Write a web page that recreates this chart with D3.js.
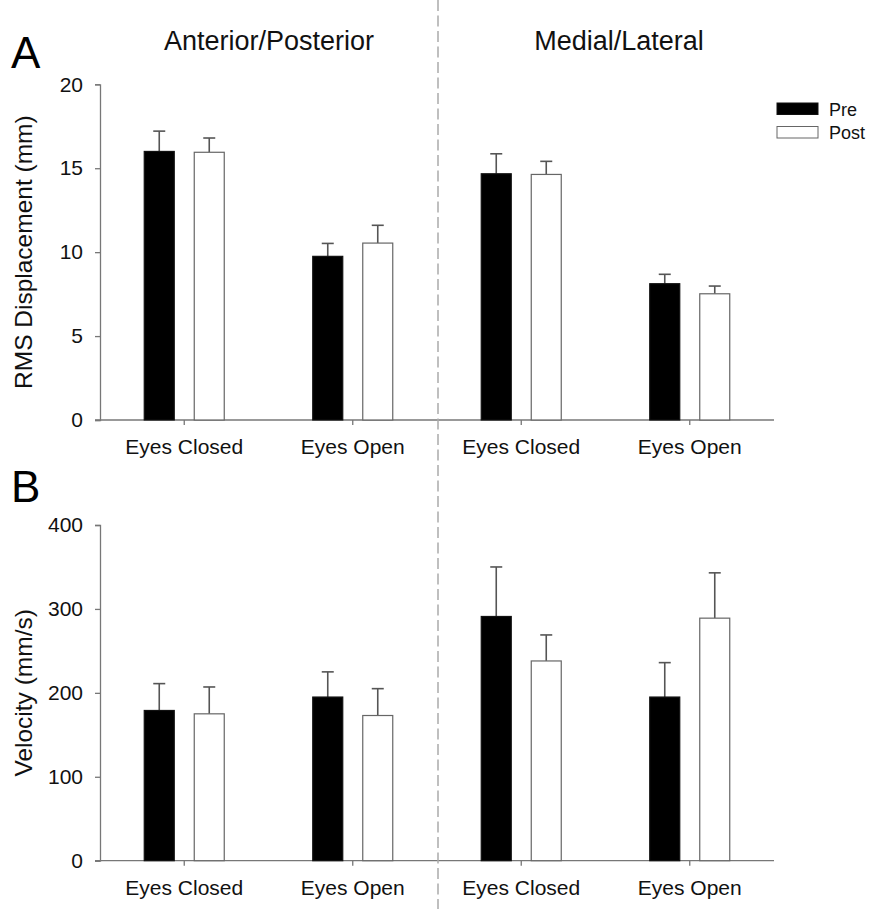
<!DOCTYPE html>
<html>
<head>
<meta charset="utf-8">
<script src="https://cdn.jsdelivr.net/npm/d3@7"></script>
<style>
  html, body { margin: 0; padding: 0; background: #fff; }
  svg { display: block; font-family: "Liberation Sans", Arial, Helvetica, sans-serif; }
</style>
</head>
<body>
<svg id="chart" width="870" height="909"></svg>
<script>
// Sway measures: two directions x two visual conditions
const directions = ["Anterior/Posterior", "Medial/Lateral"];
const conditions = ["Eyes Closed", "Eyes Open"];
const series = ["Pre", "Post"];

// Slots in order: AP-closed, AP-open, ML-closed, ML-open
const rmsPre      = [16.0, 9.75, 14.67, 8.12];
const rmsPreErr   = [1.21, 0.77, 1.19, 0.56];
const rmsPost     = [15.95, 10.54, 14.63, 7.52];
const rmsPostErr  = [0.85, 1.06, 0.78, 0.46];

const velPre      = [179, 195, 291, 195];
const velPreErr   = [32, 30, 59, 41];
const velPost     = [175, 173, 238, 289];
const velPostErr  = [32, 32, 31, 54];

const rmsTicks = [0, 5, 10, 15, 20];
const velTicks = [0, 100, 200, 300, 400];

const svg = d3.select("#chart");

const slots = directions.flatMap(d => conditions.map(c => d + "|" + c));
const x = d3.scaleBand().domain(slots).range([100, 774]);
const inner = d3.scaleBand().domain(series).range([-40, 40]).paddingInner(0.4);

const axisColor = "#777";

function panel(cfg) {
  const y = d3.scaleLinear().domain(cfg.domain).range([cfg.bottom, cfg.top]);
  const g = svg.append("g");

  // y axis
  const yAxis = g.append("g")
    .attr("transform", "translate(100,0)")
    .call(d3.axisLeft(y).tickValues(cfg.ticks).tickSize(5).tickPadding(12));
  yAxis.select(".domain").attr("stroke", axisColor).attr("stroke-width", 1.3);
  yAxis.selectAll(".tick line").attr("stroke", axisColor).attr("stroke-width", 1.3);
  yAxis.selectAll(".tick text").attr("font-size", 21).attr("fill", "#111")
    .attr("font-family", "Liberation Sans, Arial, sans-serif");

  // x axis (one continuous baseline across both directions)
  const xAxis = g.append("g")
    .attr("transform", `translate(0,${cfg.bottom})`)
    .call(d3.axisBottom(x).tickSize(5).tickSizeOuter(0).tickPadding(14)
      .tickFormat(s => s.split("|")[1]));
  xAxis.select(".domain").remove();
  xAxis.selectAll(".tick line").attr("stroke", axisColor).attr("stroke-width", 1.3);
  xAxis.selectAll(".tick text").attr("font-size", 21).attr("fill", "#111")
    .attr("font-family", "Liberation Sans, Arial, sans-serif");
  g.append("line")
    .attr("x1", 95).attr("x2", 774)
    .attr("y1", cfg.bottom).attr("y2", cfg.bottom)
    .attr("stroke", axisColor).attr("stroke-width", 1.3);

  // bars and upper error bars
  const rows = [];
  slots.forEach((s, i) => {
    rows.push({ slot: s, key: "Pre",  v: cfg.pre[i],  e: cfg.preErr[i] });
    rows.push({ slot: s, key: "Post", v: cfg.post[i], e: cfg.postErr[i] });
  });

  const cx = d => x(d.slot) + x.bandwidth() / 2 + inner(d.key) + inner.bandwidth() / 2;

  g.selectAll(".err").data(rows).join("line")
    .attr("x1", cx).attr("x2", cx)
    .attr("y1", d => y(d.v)).attr("y2", d => y(d.v + d.e))
    .attr("stroke", "#555").attr("stroke-width", 1.6);
  g.selectAll(".cap").data(rows).join("line")
    .attr("x1", d => cx(d) - 6).attr("x2", d => cx(d) + 6)
    .attr("y1", d => y(d.v + d.e)).attr("y2", d => y(d.v + d.e))
    .attr("stroke", "#555").attr("stroke-width", 1.6);

  g.selectAll(".bar").data(rows).join("rect")
    .attr("x", d => x(d.slot) + x.bandwidth() / 2 + inner(d.key))
    .attr("width", inner.bandwidth())
    .attr("y", d => y(d.v))
    .attr("height", d => y(0) - y(d.v))
    .attr("fill", d => d.key === "Pre" ? "#000" : "#fff")
    .attr("stroke", d => d.key === "Pre" ? "#111" : "#666")
    .attr("stroke-width", 1.2);

  // y axis title
  g.append("text")
    .attr("transform", `translate(32,${(cfg.top + cfg.bottom) / 2}) rotate(-90)`)
    .attr("text-anchor", "middle")
    .attr("font-size", 24.5).attr("fill", "#111")
    .text(cfg.label);

  // panel letter
  g.append("text")
    .attr("x", 11).attr("y", cfg.letterY)
    .attr("font-size", 44).attr("fill", "#000")
    .text(cfg.letter);
}

panel({
  domain: [0, 20], ticks: rmsTicks, top: 84.3, bottom: 420,
  pre: rmsPre, preErr: rmsPreErr, post: rmsPost, postErr: rmsPostErr,
  label: "RMS Displacement (mm)", letter: "A", letterY: 68
});

panel({
  domain: [0, 400], ticks: velTicks, top: 525, bottom: 860.7,
  pre: velPre, preErr: velPreErr, post: velPost, postErr: velPostErr,
  label: "Velocity (mm/s)", letter: "B", letterY: 501.5
});

// direction titles
const titleX = [269, 619];
svg.selectAll(".dirTitle").data(directions).join("text")
  .attr("x", (d, i) => titleX[i]).attr("y", 50)
  .attr("text-anchor", "middle")
  .attr("font-size", 27).attr("fill", "#111")
  .text(d => d);

// divider between directions
svg.append("line")
  .attr("x1", 438).attr("x2", 438).attr("y1", 0).attr("y2", 909)
  .attr("stroke", "#aaa").attr("stroke-width", 1.5)
  .attr("stroke-dasharray", "11,4.5");

// legend
const legend = svg.append("g").attr("transform", "translate(777,103)");
series.forEach((s, i) => {
  legend.append("rect")
    .attr("x", 0).attr("y", i * 23.5)
    .attr("width", 41).attr("height", 11.5)
    .attr("fill", s === "Pre" ? "#000" : "#fff")
    .attr("stroke", s === "Pre" ? "#111" : "#666")
    .attr("stroke-width", 1);
  legend.append("text")
    .attr("x", 52).attr("y", i * 23.5 + 12.5)
    .attr("font-size", 18).attr("fill", "#111")
    .text(s);
});
</script>
</body>
</html>
